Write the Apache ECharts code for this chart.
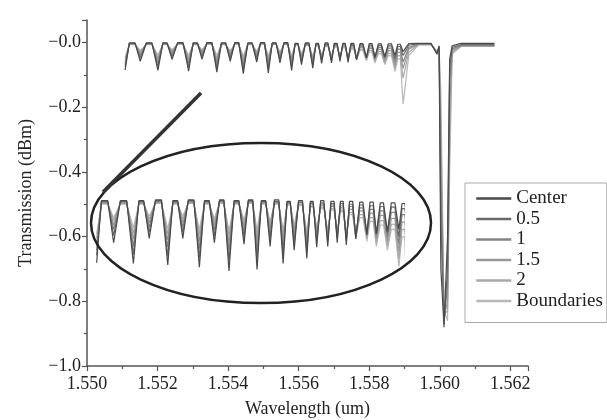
<!DOCTYPE html>
<html><head><meta charset="utf-8">
<script src="https://cdn.jsdelivr.net/npm/echarts@6/dist/echarts.min.js"></script>
<style>html,body{margin:0;padding:0;background:#fff}#c{width:607px;height:420px}</style>
</head><body><div id="c"></div>
<script>
// Wavelength samples (um): each row = dip, left shoulder, right shoulder
const wavelength = [
1.55108, 1.55120, 1.55136,
1.55151, 1.55168, 1.55184,
1.55201, 1.55215, 1.55227,
1.55241, 1.55257, 1.55272,
1.55288, 1.55301, 1.55313,
1.55326, 1.55340, 1.55354,
1.55368, 1.55381, 1.55393,
1.55406, 1.55419, 1.55430,
1.55443, 1.55456, 1.55468,
1.55481, 1.55492, 1.55503,
1.55514, 1.55525, 1.55536,
1.55547, 1.55558, 1.55569,
1.55580, 1.55590, 1.55598,
1.55608, 1.55619, 1.55629,
1.55640, 1.55649, 1.55656,
1.55665, 1.55675, 1.55683,
1.55693, 1.55701, 1.55709,
1.55717, 1.55725, 1.55732,
1.55740, 1.55748, 1.55756,
1.55764, 1.55774, 1.55782,
1.55792, 1.55800, 1.55808,
1.55816, 1.55826, 1.55834,
1.55844, 1.55854, 1.55863,
1.55873, 1.55881, 1.55888,
1.55896, 1.55912,
1.55940, 1.55975, 1.55992, 1.55998, 1.56003, 1.56012, 1.56022, 1.56028, 1.56035, 1.56060, 1.56155];

// Transmission (dBm) per series
const center = [
-0.085,-0.001,-0.001, -0.058,-0.001,-0.001, -0.086,-0.001,-0.001, -0.052,0.000,0.000,
-0.088,-0.001,-0.001, -0.052,0.000,0.000, -0.091,-0.001,-0.001, -0.058,0.000,0.000,
-0.096,-0.001,-0.001, -0.060,0.000,0.000, -0.094,-0.001,-0.001, -0.063,0.000,0.000,
-0.086,-0.002,-0.002, -0.068,-0.001,-0.001, -0.079,-0.002,-0.002, -0.064,-0.001,-0.001,
-0.063,-0.002,-0.002, -0.058,-0.002,-0.002, -0.061,-0.002,-0.002, -0.053,-0.003,-0.003,
-0.047,-0.003,-0.003, -0.046,-0.004,-0.004, -0.043,-0.004,-0.004, -0.040,-0.005,-0.005,
-0.028,-0.003,
-0.002,-0.002,-0.036,-0.010,-0.700,-0.880,-0.600,-0.050,-0.010,-0.002,-0.002];
const off05 = [
-0.075,-0.002,-0.002, -0.048,-0.002,-0.002, -0.074,-0.002,-0.002, -0.044,-0.001,-0.001,
-0.076,-0.002,-0.002, -0.044,-0.001,-0.001, -0.078,-0.002,-0.002, -0.049,-0.001,-0.001,
-0.082,-0.002,-0.002, -0.051,-0.001,-0.001, -0.080,-0.002,-0.002, -0.054,-0.002,-0.002,
-0.074,-0.003,-0.003, -0.059,-0.003,-0.003, -0.069,-0.004,-0.004, -0.056,-0.004,-0.004,
-0.056,-0.005,-0.005, -0.052,-0.005,-0.005, -0.055,-0.006,-0.006, -0.050,-0.007,-0.007,
-0.046,-0.008,-0.008, -0.046,-0.009,-0.009, -0.045,-0.010,-0.010, -0.050,-0.012,-0.012,
-0.040,-0.008,
-0.003,-0.003,-0.034,-0.012,-0.550,-0.870,-0.700,-0.080,-0.015,-0.006,-0.006];
const off1 = [
-0.068,-0.003,-0.003, -0.040,-0.003,-0.003, -0.063,-0.003,-0.003, -0.037,-0.002,-0.002,
-0.064,-0.003,-0.003, -0.037,-0.002,-0.002, -0.066,-0.003,-0.003, -0.041,-0.002,-0.002,
-0.069,-0.003,-0.003, -0.043,-0.002,-0.002, -0.068,-0.003,-0.003, -0.046,-0.003,-0.003,
-0.064,-0.004,-0.004, -0.051,-0.004,-0.004, -0.061,-0.005,-0.005, -0.050,-0.006,-0.006,
-0.051,-0.007,-0.007, -0.049,-0.008,-0.008, -0.052,-0.009,-0.009, -0.049,-0.011,-0.011,
-0.047,-0.013,-0.013, -0.049,-0.015,-0.015, -0.050,-0.017,-0.017, -0.060,-0.020,-0.020,
-0.060,-0.015,
-0.004,-0.004,-0.032,-0.014,-0.450,-0.860,-0.750,-0.120,-0.020,-0.008,-0.008];
const off15 = [
-0.060,-0.004,-0.004, -0.034,-0.004,-0.004, -0.053,-0.004,-0.004, -0.031,-0.003,-0.003,
-0.054,-0.004,-0.004, -0.031,-0.003,-0.003, -0.056,-0.004,-0.004, -0.034,-0.003,-0.003,
-0.058,-0.004,-0.004, -0.036,-0.003,-0.003, -0.057,-0.004,-0.004, -0.039,-0.004,-0.004,
-0.055,-0.005,-0.005, -0.044,-0.006,-0.006, -0.054,-0.007,-0.007, -0.045,-0.008,-0.008,
-0.047,-0.009,-0.009, -0.047,-0.011,-0.011, -0.050,-0.013,-0.013, -0.049,-0.015,-0.015,
-0.049,-0.018,-0.018, -0.053,-0.021,-0.021, -0.056,-0.025,-0.025, -0.070,-0.030,-0.030,
-0.080,-0.020,
-0.005,-0.005,-0.030,-0.016,-0.350,-0.850,-0.800,-0.200,-0.025,-0.010,-0.010];
const off2 = [
-0.052,-0.005,-0.005, -0.028,-0.005,-0.005, -0.045,-0.005,-0.005, -0.026,-0.004,-0.004,
-0.046,-0.005,-0.005, -0.026,-0.004,-0.004, -0.047,-0.005,-0.005, -0.029,-0.004,-0.004,
-0.049,-0.005,-0.005, -0.031,-0.004,-0.004, -0.048,-0.005,-0.005, -0.033,-0.005,-0.005,
-0.047,-0.006,-0.006, -0.038,-0.007,-0.007, -0.048,-0.009,-0.009, -0.041,-0.010,-0.010,
-0.044,-0.012,-0.012, -0.045,-0.014,-0.014, -0.049,-0.017,-0.017, -0.050,-0.020,-0.020,
-0.052,-0.024,-0.024, -0.058,-0.028,-0.028, -0.062,-0.033,-0.033, -0.080,-0.040,-0.040,
-0.110,-0.030,
-0.006,-0.006,-0.028,-0.018,-0.250,-0.840,-0.830,-0.300,-0.030,-0.011,-0.011];
const boundaries = [
-0.046,-0.006,-0.006, -0.024,-0.006,-0.006, -0.038,-0.006,-0.006, -0.022,-0.005,-0.005,
-0.039,-0.006,-0.006, -0.022,-0.005,-0.005, -0.040,-0.006,-0.006, -0.025,-0.005,-0.005,
-0.042,-0.006,-0.006, -0.027,-0.005,-0.005, -0.041,-0.006,-0.006, -0.029,-0.006,-0.006,
-0.041,-0.007,-0.007, -0.034,-0.008,-0.008, -0.043,-0.010,-0.010, -0.038,-0.012,-0.012,
-0.042,-0.014,-0.014, -0.044,-0.016,-0.016, -0.049,-0.020,-0.020, -0.052,-0.024,-0.024,
-0.056,-0.029,-0.029, -0.063,-0.034,-0.034, -0.068,-0.040,-0.040, -0.090,-0.050,-0.050,
-0.190,-0.040,
-0.007,-0.007,-0.026,-0.020,-0.150,-0.830,-0.860,-0.400,-0.035,-0.012,-0.012];

const seriesNames = ['Center', '0.5', '1', '1.5', '2', 'Boundaries'];
const seriesValues = [center, off05, off1, off15, off2, boundaries];

const lineColors = ['#4a4a4a', '#6a6a6a', '#858585', '#989898', '#a8a8a8', '#b8b8b8'];
const FONT = "'Liberation Serif','Times New Roman',serif";

const chart = echarts.init(document.getElementById('c'), null, {renderer: 'canvas'});

const series = [];
for (let s = seriesNames.length - 1; s >= 0; s--) {
  const pts = wavelength.map((x, i) => [x, seriesValues[s][i]]);
  series.push({
    name: seriesNames[s], type: 'line', data: pts, symbol: 'none',
    xAxisIndex: 0, yAxisIndex: 0,
    lineStyle: {color: lineColors[s], width: 1.2}, itemStyle: {color: lineColors[s]},
    silent: true, z: 3
  });
  series.push({
    name: seriesNames[s], type: 'line', data: pts, symbol: 'none',
    xAxisIndex: 1, yAxisIndex: 1, clip: true,
    lineStyle: {color: lineColors[s], width: 1.2}, itemStyle: {color: lineColors[s]},
    silent: true, z: 3
  });
}

const axisCommon = {
  axisLine: {show: true, onZero: false, lineStyle: {color: '#555', width: 1.5}},
  axisTick: {show: true, length: 5, lineStyle: {color: '#555', width: 1.2}},
  minorTick: {show: true, splitNumber: 2, length: 3, lineStyle: {color: '#555', width: 1.2}},
  splitLine: {show: false},
};

chart.setOption({
  animation: false,
  backgroundColor: '#fff',
  grid: [
    {left: 87, right: 79, top: 20, bottom: 54, containLabel: false, outerBoundsMode: 'none'},
    {left: 93.5, top: 185, width: 310.5, height: 100, containLabel: false, outerBoundsMode: 'none'}
  ],
  xAxis: [
    Object.assign({
      type: 'value', gridIndex: 0, min: 1.550, max: 1.5625, interval: 0.002,
      name: 'Wavelength (um)', nameLocation: 'middle', nameGap: 34,
      nameTextStyle: {fontFamily: FONT, fontSize: 18, color: '#222'},
      axisLabel: {fontFamily: FONT, fontSize: 18, color: '#222', margin: 9,
        showMaxLabel: false,
        formatter: v => Math.abs(Math.round(v * 500) - v * 500) < 1e-6 ? v.toFixed(3) : ''}
    }, axisCommon),
    {type: 'value', gridIndex: 1, min: 1.5510, max: 1.55886, show: false}
  ],
  yAxis: [
    Object.assign({
      type: 'value', gridIndex: 0, min: -1.0, max: 0.07, interval: 0.2,
      name: 'Transmission (dBm)', nameLocation: 'middle', nameGap: 52, nameRotate: 90,
      nameTextStyle: {fontFamily: FONT, fontSize: 18, color: '#222'},
      axisLabel: {fontFamily: FONT, fontSize: 18, color: '#222', margin: 6,
        showMaxLabel: false,
        formatter: v => (v <= 1e-9 && Math.abs(Math.round(v * 5) - v * 5) < 1e-6) ? '\u2212' + Math.abs(v).toFixed(1) : ''}
    }, axisCommon),
    {type: 'value', gridIndex: 1, min: -0.115, max: 0.02, show: false}
  ],
  legend: {
    data: seriesNames, orient: 'vertical', left: 465, top: 183,
    padding: [6, 4, 12, 10], itemGap: 1.5, itemWidth: 35, itemHeight: 14,
    borderColor: '#aaa', borderWidth: 1, backgroundColor: '#fff',
    selectedMode: false,
    textStyle: {fontFamily: FONT, fontSize: 19, color: '#222', lineHeight: 19},
    itemStyle: {opacity: 0},
    lineStyle: {width: 2.5}
  },
  graphic: [
    {type: 'ellipse', shape: {cx: 261, cy: 223, rx: 170, ry: 80},
     style: {fill: 'none', stroke: '#222', lineWidth: 2.5}, z: 10, silent: true},
    {type: 'line', shape: {x1: 103, y1: 192, x2: 201, y2: 93},
     style: {stroke: '#333', lineWidth: 3.5}, z: 10, silent: true}
  ],
  series: series
});
</script>
</body></html>
